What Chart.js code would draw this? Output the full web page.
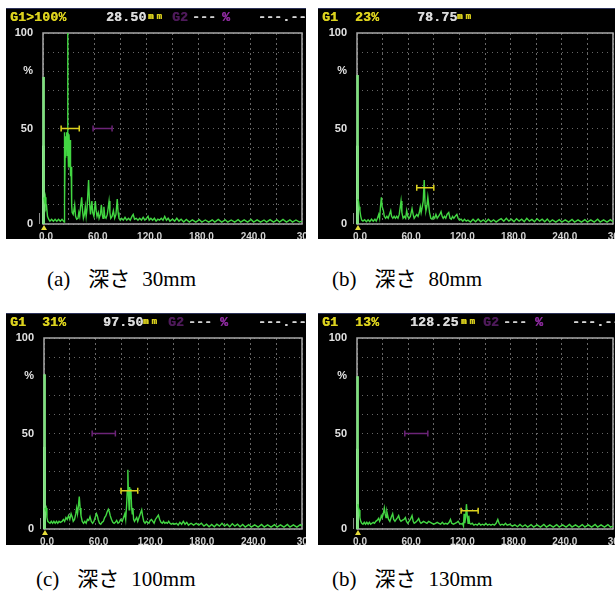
<!DOCTYPE html>
<html>
<head>
<meta charset="utf-8">
<script src="https://cdn.jsdelivr.net/npm/chart.js@4.4.1/dist/chart.umd.min.js"></script>
<style>
  html, body { margin: 0; padding: 0; background: #fff; width: 615px; height: 592px; overflow: hidden; }
  .panel { position: absolute; background: #000; overflow: hidden; border-top: 1px solid #2c3258; }
  .panel canvas { position: absolute; left: 0; top: 0; }
  .hd { position: absolute; top: 1px; line-height: 14px; white-space: pre;
        font: bold 13px "Liberation Mono", "DejaVu Sans Mono", monospace; letter-spacing: 0.3px;
        text-shadow: 0.4px 0 0 currentColor; }
  .hd.unit { font-size: 9px; letter-spacing: 3px; top: 3px; }
  .cap { position: absolute; font-size: 21px; line-height: 24px; white-space: nowrap; color: #000;
         font-family: "Liberation Serif", "Times New Roman", "DejaVu Serif", serif; }
  .cap .jp { font-family: "Noto Sans CJK JP", sans-serif; margin-left: 18px; }
  .cap .num { margin-left: 12px; }
</style>
</head>
<body>
<script>
// A-scan echo traces: [depth (mm), echo height (%)]
const traceA = [[1.0,14],[1.8,12],[2.6,14],[3.4,8],[4.2,9],[5.2,4],[6.5,2.5],[8,1.5],[10,2.5],[12,1.5],[14,2.5],[16,1.5],[18,2.5],[20,1.5],[22,2.5],[23.8,1.5],[24.6,1],[24.8,48],[25.1,12],[25.6,35],[26.2,46],[26.8,40],[27.4,48],[28.0,36],[28.9,44],[29.5,30],[30.1,47],[30.7,40],[31.3,44],[31.9,25],[32.6,30],[33.2,10],[33.8,6],[35,5],[36.7,10],[37.7,4],[39,2.5],[40.5,3],[41.5,6],[42.5,4],[43.5,9],[44.8,14],[45.8,7],[46.8,3],[48,5],[49,9],[50,4],[51,8],[52.8,23],[53.8,12],[55,5],[56.6,12],[57.6,6],[59,4],[60.6,12],[61.6,7],[62.6,4],[64,6],[65,3],[66.5,5],[67.6,10],[68.6,5],[69.5,3],[70.5,9],[71.5,4],[73,3],[74.5,5],[76.5,12],[77.5,6],[78.5,3],[80,4],[81.5,7],[83,3],[84.5,5],[86,13],[87,6],[88,3],[89.5,2],[91,3],[93,2],[95,3.5],[97,2],[99,3],[101,2],[103,4],[104.5,5],[106,2.5],[108,3],[110,2],[112,3],[114,2],[116,3.5],[118,2],[120,3],[121.7,4],[123,2],[125,3],[127,2],[129,3],[131,1.5],[133,2.5],[135,2],[137,3],[139,2],[141,4],[143,2],[145,3],[147,1.5],[150,2.5],[152.5,1.5],[155,3],[157.5,1.5],[160,2.5],[163,1],[166,2.4],[169.5,1],[173,2.2],[177,1],[181,2.3],[184,1],[188,2.1],[192,1],[196,2.2],[199,1],[203,2.4],[207,1],[211,2.2],[214,1],[218,2.1],[222,1],[226,2.3],[229,1],[233,2.2],[237,1],[241,2.4],[244,1],[248,2.2],[252,1],[256,2.1],[259,1],[263,2.3],[267,1],[271,2.2],[274,1],[278,2.4],[282,1],[286,2.2],[289,1],[293,2.1],[297,1],[300,1.5]];

const traceB = [[1.0,13],[1.8,12],[2.6,9],[3.4,7],[4.4,4],[5.5,2],[7,1.5],[9,2.2],[11,1.2],[13,2.2],[15,1.2],[17,2.5],[19,1.5],[21,2.5],[22.5,1.5],[24,3],[25.5,5],[26.5,3],[27.5,9],[28.6,14],[29.5,9],[30.9,7],[32,4],[33.5,3],[35,4],[36.5,3],[38,5],[39.5,7],[40.5,4],[42,3],[43.5,4],[45,3],[46.5,4],[48,3],[49.5,5],[51.6,12],[52.6,6],[54,3],[55.5,4],[57,3],[58.2,7],[59.5,4],[61,3],[62.5,4],[64.5,8],[65.8,5],[67,3],[68.5,4],[70,5],[71.5,4],[73,6],[74.2,9],[75.2,6],[76.5,9],[77.6,12],[79.8,10],[80.8,7],[81.8,9],[83,14],[84,10],[85,6],[86.5,3],[88,2.5],[89.5,4],[91,3],[92.5,5],[94,3],[95.5,4],[97,5],[98.5,6.5],[99.8,4],[101,3],[102.5,4],[104,3],[105.5,5],[107.5,6],[109,3],[110.5,2.5],[112,4],[113.5,3],[115,4],[117,5],[118.5,3],[120,2],[122,2.5],[124,1.5],[126,2.5],[128,1.5],[130,2],[133,1],[136,2.5],[139,1.2],[142,2.6],[145,1.2],[148,2.2],[151,1],[154,2.5],[157,1.2],[160,2.2],[163,1],[166,2],[169,2.8],[172,1.5],[175,3],[178,1.5],[181,2.5],[184,1.2],[187,2.8],[190,1.5],[193,2.5],[196,1.2],[199,3],[202,1.5],[205,2.4],[208,1.2],[211,2.8],[214,1.5],[217,2.5],[220,1.2],[223,2.6],[226,1],[229,2.2],[233,1],[237,2.3],[240,1],[244,2.2],[248,1],[252,2.4],[255,1],[259,2.2],[263,1],[267,2.3],[270,1],[274,2.2],[278,1],[282,2.5],[285,1],[289,2.2],[293,1],[297,2.3],[300,1.2]];

const traceC = [[1.0,11],[1.8,10],[2.6,11],[3.4,6],[4.4,4],[5.5,3.5],[7,3],[8.5,4],[10,3],[11.5,4],[13,3],[14.5,4],[16,3],[17.5,4],[19,3.5],[21,4],[22.5,5],[24,4],[25.5,6],[27,5],[28.5,7],[30,5],[31.5,8],[33,6],[34,4],[35.5,5],[37,8],[38,11],[39,8],[40,12],[41,17],[42,11],[43,7],[44.5,4],[46,3],[47.5,4],[49,3],[50.5,5],[52,4.5],[53.5,6.5],[55,4],[56.5,3],[58,4],[59.5,6],[61,8],[62,7],[63,5],[64.5,3],[66,2.5],[67.5,3.5],[69,4],[70.5,6],[72,7],[73.5,9],[74.8,10.3],[76,9],[77,7],[78.5,5],[80,3.5],[81.5,3],[83,3.5],[84.5,4.5],[86,3],[87.5,3.5],[89,5],[91,4],[92.5,6],[94,8],[95,5],[96,12],[96.8,20],[98.2,18],[99,10],[99.6,22],[100.3,16],[101,21],[101.8,12],[102.6,8],[103.4,11],[104.2,5],[105.2,4],[106.5,5],[107.8,6],[109,4],[110.5,6],[112,8],[113.6,10],[114.6,7],[116,4],[117.5,3],[119,4],[120.5,3.5],[122,3],[123.5,4.5],[125,5],[126.5,4],[128,3],[129.5,5],[131,6],[133,7.3],[134.5,5],[136,3.5],[137.5,3],[139,4],[140.5,3],[142,3.5],[143.5,3],[145,4],[146.5,3],[148,2.5],[150,3],[152,2.5],[154,3],[156,2],[158,3.5],[160,2.5],[162,4],[164,2.5],[166,3.5],[168,2],[171,3],[174,2],[177,3],[180,2],[183,3],[186,1.5],[189,2.5],[192,1.2],[195,2.4],[198,1.2],[201,2.5],[204,1.5],[207,3],[210,1.5],[213,2.5],[216,1.2],[219,2.8],[222,1.5],[225,2.5],[228,1.2],[231,2.4],[234,1],[238,2.3],[241,1],[245,2.2],[249,1],[253,2.4],[256,1],[260,2.2],[264,1],[268,2.3],[271,1],[275,2.2],[279,1],[283,2.4],[286,1],[290,2.2],[294,1],[298,2.3],[300,1.5]];

const traceD = [[1.0,13],[1.8,11],[2.6,10],[3.4,6],[4.4,4],[5.5,3],[7,2.5],[8.5,3.5],[10,2.5],[11.5,3.5],[13,2.5],[14.5,3.5],[16,2.5],[17.5,3],[19,3.5],[20.5,3],[22,4],[23.5,4.5],[25.4,5.6],[26.5,4],[27.5,5],[28.5,7],[29.5,6],[30.8,8],[32,11],[33,8],[34,6],[35,9],[36,7],[37,5],[38.5,4],[40,6],[41.8,8],[43,5],[44.5,4],[46,5],[47.5,6],[48.8,7],[50,5],[51.5,4],[53,4.5],[55,5],[56.7,6],[58,4],[59.5,3],[61,4],[62.5,5],[64.5,7],[65.8,4],[67,3],[68.5,3.5],[70,4],[72.3,5.5],[73.5,4],[75,3],[76.5,3.5],[78,4],[80,3.5],[82,3],[84,4],[86,3.5],[88,3],[90,2.5],[92,3],[94,3.5],[96,3],[98,2.5],[100,3.5],[102,2.5],[104,3],[106,2.5],[108,3.5],[109.5,5],[111,3],[113,2.5],[115,3],[117,3.5],[118.5,4],[120,3],[122,2.5],[123.5,3],[124.8,1.5],[125.5,8],[126.3,3],[127.3,6],[129.2,7],[130.2,3],[131,7],[132,3],[133.5,2.5],[135,3],[137,2],[139,2.5],[141,2],[143,3],[145,2],[147,2.5],[149,2],[151,3],[153,2],[155,2.5],[157,2],[159,2.5],[161,2],[163,3],[165,5],[166.5,3],[168,2],[170,2.5],[172,2],[174,3],[176,2],[179,2.5],[182,1.5],[185,2.2],[188,1.2],[191,2.4],[194,1.2],[197,2.2],[200,1],[204,2.3],[207,1],[211,2.2],[215,1],[219,2.4],[222,1],[226,2.2],[230,1],[234,2.3],[237,1],[241,2.2],[245,1],[249,2.4],[252,1],[256,2.2],[260,1],[264,2.3],[267,1],[271,2.2],[275,1],[279,2.4],[282,1],[286,2.2],[290,1],[294,2.3],[297,1],[300,1.5]];

// gate G1 readout: echo height (%) and depth (mm)
const echoHeight = [100, 23, 31, 13];
const echoDepth = [28.5, 78.75, 97.5, 128.25];

// initial (transmit) pulse height and its bright lower section, %
const pulsePeak = [77, 78, 81, 80];
const pulseKnee = [41, 41, 43, 42];

// gates: [start mm, end mm, level %]
const gate1 = [[21, 42, 50], [70, 90, 19], [89.5, 109, 20], [122, 142, 9.5]];
const gate2 = [[58, 80, 50], null, [56, 83, 50], [56, 83, 50]];

// axis labels
const xTickValues = [0, 60, 120, 180, 240, 300];
const xTickLabels = ['0.0', '60.0', '120.0', '180.0', '240.0', '300'];
const yTickValues = [0, 50, 80, 100];
const yTickLabels = ['0', '50', '%', '100'];

// captions
const capLetters = ['(a)', '(b)', '(c)', '(b)'];
const capDepths = ['30mm', '80mm', '100mm', '130mm'];

const traces = [traceA, traceB, traceC, traceD];

// screen layout of the four panels
const panels = [
  { left: 6,   top: 8,   w: 300, h: 230, yW: 37, xH: 15, padR: 4,
    hd: { amp: 20, depth: 100, unit: 142, g2: 166, dash: 186, pct: 216, rd: 252 }, cap: [47, 265] },
  { left: 318, top: 8,   w: 297, h: 230, yW: 39, xH: 15, padR: 2,
    hd: { amp: 37, depth: 99, unit: 139 }, cap: [332, 265] },
  { left: 6,   top: 313, w: 300, h: 231, yW: 38, xH: 16, padR: 4,
    hd: { amp: 36, depth: 97, unit: 137, g2: 162, dash: 182, pct: 214, rd: 252 }, cap: [36, 565] },
  { left: 318, top: 313, w: 297, h: 231, yW: 39, xH: 16, padR: 2,
    hd: { amp: 37, depth: 92, unit: 143, g2: 165, dash: 185, pct: 217, rd: 254 }, cap: [332, 565] }
];

const YELLOW = '#dcd21e';
const PURPLE = '#6c2478';

// gate bars drawn on the chart's own scales
const gatePlugin = {
  id: 'gates',
  afterDatasetsDraw(chart, args, opts) {
    const { ctx, scales: { x, y } } = chart;
    const bar = (g, color) => {
      if (!g) return;
      const x0 = x.getPixelForValue(g[0]);
      const x1 = x.getPixelForValue(g[1]);
      const yy = y.getPixelForValue(g[2]);
      ctx.save();
      ctx.strokeStyle = color;
      ctx.lineWidth = 1.5;
      ctx.beginPath();
      ctx.moveTo(x0, yy); ctx.lineTo(x1, yy);
      ctx.moveTo(x0, yy - 3); ctx.lineTo(x0, yy + 3);
      ctx.moveTo(x1, yy - 3); ctx.lineTo(x1, yy + 3);
      ctx.stroke();
      ctx.restore();
    };
    bar(opts.g2, PURPLE);
    bar(opts.g1, YELLOW);
  }
};

// screen frame, zero marker
const framePlugin = {
  id: 'frame',
  beforeDatasetsDraw(chart) {
    const { ctx, chartArea: a, scales: { x } } = chart;
    ctx.save();
    ctx.strokeStyle = '#a8a8a8';
    ctx.lineWidth = 1.5;
    ctx.strokeRect(a.left, a.top, a.right - a.left, a.bottom - a.top);
    ctx.strokeStyle = '#8a8a8a';
    ctx.lineWidth = 1;
    ctx.beginPath();
    ctx.moveTo(a.left - 3.5, a.bottom - 11);
    ctx.lineTo(a.left - 3.5, a.bottom);
    ctx.stroke();
    const x0 = x.getPixelForValue(0);
    ctx.fillStyle = '#e6dc3a';
    ctx.beginPath();
    ctx.moveTo(x0 + 1, a.bottom + 1);
    ctx.lineTo(x0 + 4, a.bottom + 6);
    ctx.lineTo(x0 - 2, a.bottom + 6);
    ctx.closePath();
    ctx.fill();
    ctx.restore();
  }
};

function addText(parent, cls, left, text, color) {
  const d = document.createElement('div');
  d.className = cls;
  d.style.left = left + 'px';
  d.style.color = color;
  d.textContent = text;
  parent.appendChild(d);
}

panels.forEach((p, i) => {
  const box = document.createElement('div');
  box.className = 'panel';
  box.style.left = p.left + 'px';
  box.style.top = p.top + 'px';
  box.style.width = p.w + 'px';
  box.style.height = p.h + 'px';
  document.body.appendChild(box);

  const cv = document.createElement('canvas');
  cv.width = p.w; cv.height = p.h;
  cv.style.width = p.w + 'px'; cv.style.height = p.h + 'px';
  box.appendChild(cv);

  // status line
  const amp = echoHeight[i] >= 100 ? '>100%' : echoHeight[i] + '%';
  addText(box, 'hd', 4, 'G1', YELLOW);
  addText(box, 'hd', p.hd.amp, amp, YELLOW);
  addText(box, 'hd', p.hd.depth, echoDepth[i].toFixed(2), '#dadada');
  addText(box, 'hd unit', p.hd.unit, 'mm', YELLOW);
  if (p.hd.g2 !== undefined) {
    addText(box, 'hd', p.hd.g2, 'G2', '#4e1a5a');
    addText(box, 'hd', p.hd.dash, '---', '#cfcfcf');
    addText(box, 'hd', p.hd.pct, '%', '#8b2a9c');
    addText(box, 'hd', p.hd.rd, '---.--', '#d6d6d6');
  }

  // echo trace with the gate readout point in place
  const pts = traces[i].concat([[echoDepth[i], echoHeight[i]]])
    .sort((u, v) => u[0] - v[0])
    .map(([x, y]) => ({ x, y }));
  const pulseTop = [{ x: 0.7, y: 0 }, { x: 0.7, y: pulsePeak[i] }];
  const pulseLow = [{ x: 0.5, y: 0 }, { x: 0.5, y: pulseKnee[i] }];

  const tickFont = { family: '"Liberation Sans", Arial, sans-serif', weight: 'bold' };

  new Chart(cv, {
    type: 'line',
    data: {
      datasets: [
        { data: pts, borderColor: '#42d642', borderWidth: 1.4, pointRadius: 0, tension: 0, clip: 4 },
        { data: pulseTop, borderColor: '#7ee07e', borderWidth: 2.6, pointRadius: 0, clip: 4 },
        { data: pulseLow, borderColor: '#c8ffc8', borderWidth: 2.6, pointRadius: 0, clip: 4 }
      ]
    },
    options: {
      responsive: false,
      animation: false,
      events: [],
      layout: { padding: { top: 24, right: p.padR, left: 0, bottom: 0 } },
      plugins: {
        legend: { display: false },
        tooltip: { enabled: false },
        gates: { g1: gate1[i], g2: gate2[i] }
      },
      scales: {
        x: {
          type: 'linear', min: 0, max: 300,
          afterFit(s) { s.height = p.xH; s.paddingLeft = 0; s.paddingRight = 0; },
          grid: { color: '#666666', lineWidth: 1, drawTicks: false },
          border: { display: false, dash: [2, 3] },
          ticks: {
            stepSize: 30, autoSkip: false, maxRotation: 0, minRotation: 0,
            padding: 7, labelOffset: 3, color: '#d2d2d2',
            font: Object.assign({ size: 10 }, tickFont),
            callback: v => { const k = xTickValues.indexOf(v); return k < 0 ? '' : xTickLabels[k]; }
          }
        },
        y: {
          min: 0, max: 100,
          afterFit(s) { s.width = p.yW; s.paddingTop = 0; s.paddingBottom = 0; },
          grid: { color: '#666666', lineWidth: 1, drawTicks: false },
          border: { display: false, dash: [1, 4] },
          ticks: {
            stepSize: 10, padding: 10, color: '#e2e2e2',
            font: Object.assign({ size: 11 }, tickFont),
            callback: v => { const k = yTickValues.indexOf(v); return k < 0 ? '' : yTickLabels[k]; }
          }
        }
      }
    },
    plugins: [framePlugin, gatePlugin]
  });

  // caption
  const cap = document.createElement('div');
  cap.className = 'cap';
  cap.style.left = p.cap[0] + 'px';
  cap.style.top = p.cap[1] + 'px';
  const s1 = document.createElement('span'); s1.textContent = capLetters[i];
  const s2 = document.createElement('span'); s2.className = 'jp'; s2.textContent = '深さ';
  const s3 = document.createElement('span'); s3.className = 'num'; s3.textContent = capDepths[i];
  cap.append(s1, s2, s3);
  document.body.appendChild(cap);
});
</script>
</body>
</html>
